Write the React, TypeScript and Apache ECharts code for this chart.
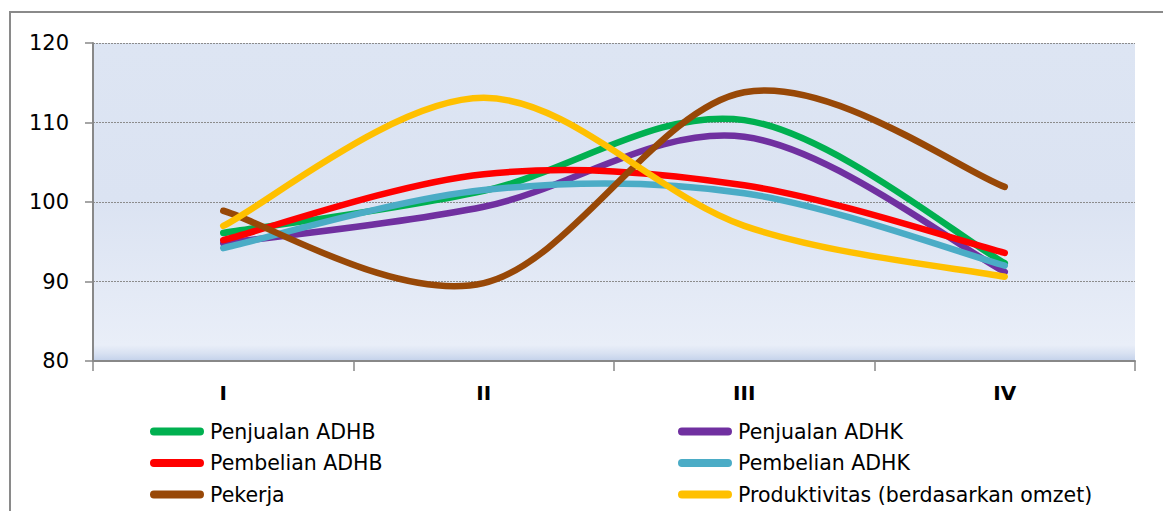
import React, { useEffect, useRef } from "react";
import * as echarts from "echarts";

// Quarters on the x axis
const categories = ["I", "II", "III", "IV"];

// Index values per quarter
const penjualanADHB = [96.1, 101.4, 110.3, 92.3];
const penjualanADHK = [94.8, 99.4, 108.2, 91.2];
const pembelianADHB = [95.2, 103.5, 102.1, 93.6];
const pembelianADHK = [94.2, 101.5, 101.1, 92.0];
const pekerja = [98.9, 89.8, 113.8, 101.9];
const produktivitas = [97.0, 113.1, 97.0, 90.6];

const seriesDefs = [
  { name: "Penjualan ADHB", data: penjualanADHB, color: "#00b050" },
  { name: "Penjualan ADHK", data: penjualanADHK, color: "#7030a0" },
  { name: "Pembelian ADHB", data: pembelianADHB, color: "#ff0000" },
  { name: "Pembelian ADHK", data: pembelianADHK, color: "#4bacc6" },
  { name: "Pekerja", data: pekerja, color: "#984807" },
  { name: "Produktivitas (berdasarkan omzet)", data: produktivitas, color: "#ffc000" },
];

const FONT = "'DejaVu Sans', 'Noto Sans', sans-serif";
const LEGEND_ICON = "path://M4,0 H51 A4,4 0 0 1 51,8 H4 A4,4 0 0 1 4,0 Z";

// Catmull-Rom spline through pixel points, written as cubic Bezier segments
function splinePath(pts: number[][]): string {
  let d = `M${pts[0][0]},${pts[0][1]}`;
  for (let i = 0; i < pts.length - 1; i++) {
    const p0 = pts[Math.max(i - 1, 0)];
    const p1 = pts[i];
    const p2 = pts[i + 1];
    const p3 = pts[Math.min(i + 2, pts.length - 1)];
    const c1x = p1[0] + (p2[0] - p0[0]) / 6;
    const c1y = p1[1] + (p2[1] - p0[1]) / 6;
    const c2x = p2[0] - (p3[0] - p1[0]) / 6;
    const c2y = p2[1] - (p3[1] - p1[1]) / 6;
    d += ` C${c1x},${c1y} ${c2x},${c2y} ${p2[0]},${p2[1]}`;
  }
  return d;
}

export default function App() {
  const ref = useRef<HTMLDivElement>(null);

  useEffect(() => {
    if (!ref.current) return;
    const chart = echarts.init(ref.current, undefined, { renderer: "svg" });

    const legendCommon = {
      orient: "vertical" as const,
      top: 421,
      itemWidth: 54,
      itemHeight: 8,
      itemGap: 10.5,
      icon: LEGEND_ICON,
      textStyle: { fontFamily: FONT, fontSize: 20.5, color: "#000", lineHeight: 20, padding: [0, 0, 0, 1] },
      padding: 0,
    };

    chart.setOption({
      animation: false,
      backgroundColor: "#fff",
      textStyle: { fontFamily: FONT },
      graphic: [
        {
          type: "rect",
          shape: { x: 10, y: 12, width: 1300, height: 700 },
          style: { fill: "none", stroke: "#8a8a8a", lineWidth: 2 },
          z: 0,
        },
      ],
      grid: {
        left: 93,
        right: 28,
        top: 43,
        bottom: 150,
        show: true,
        borderWidth: 0,
        backgroundColor: new echarts.graphic.LinearGradient(0, 0, 0, 1, [
          { offset: 0, color: "#dde5f3" },
          { offset: 0.5, color: "#dbe3f2" },
          { offset: 0.95, color: "#e9eef8" },
          { offset: 0.975, color: "#d9e2f2" },
          { offset: 1, color: "#c3d1ea" },
        ]),
      },
      legend: [
        {
          ...legendCommon,
          left: 150,
          data: seriesDefs.filter((_, i) => i % 2 === 0).map((s) => s.name),
        },
        {
          ...legendCommon,
          left: 678,
          data: seriesDefs.filter((_, i) => i % 2 === 1).map((s) => s.name),
        },
      ],
      xAxis: {
        type: "category",
        data: categories,
        boundaryGap: true,
        axisLine: { lineStyle: { color: "#888", width: 2 } },
        axisTick: { show: true, length: 10, lineStyle: { color: "#888", width: 1.5 } },
        axisLabel: { fontFamily: FONT, fontSize: 20, fontWeight: "bold", color: "#000", margin: 22 },
        splitLine: { show: false },
      },
      yAxis: {
        type: "value",
        min: 80,
        max: 120,
        interval: 10,
        axisLine: { show: true, lineStyle: { color: "#888", width: 2 } },
        axisTick: { show: true, length: 8, lineStyle: { color: "#888", width: 1.5 } },
        axisLabel: { fontFamily: FONT, fontSize: 21, color: "#000", margin: 24 },
        splitLine: { show: true, lineStyle: { color: "#8c8c8c", type: [2, 1], width: 1.2 } },
      },
      series: seriesDefs.map((s) => ({
        name: s.name,
        type: "custom",
        coordinateSystem: "cartesian2d",
        data: s.data.map((v, i) => [i, v]),
        encode: { x: 0, y: 1 },
        itemStyle: { color: s.color },
        renderItem: (params: any, api: any) => {
          if (params.dataIndex !== 0) return { type: "group", children: [] };
          const pts = s.data.map((v, i) => api.coord([i, v]));
          return {
            type: "path",
            shape: { pathData: splinePath(pts) },
            style: {
              fill: "none",
              stroke: s.color,
              lineWidth: 6.5,
              lineCap: "round",
              lineJoin: "round",
            },
          };
        },
      })),
    });

    return () => chart.dispose();
  }, []);

  return (
    <div
      ref={ref}
      style={{ position: "fixed", left: 0, top: 0, width: 1163, height: 511 }}
    />
  );
}
